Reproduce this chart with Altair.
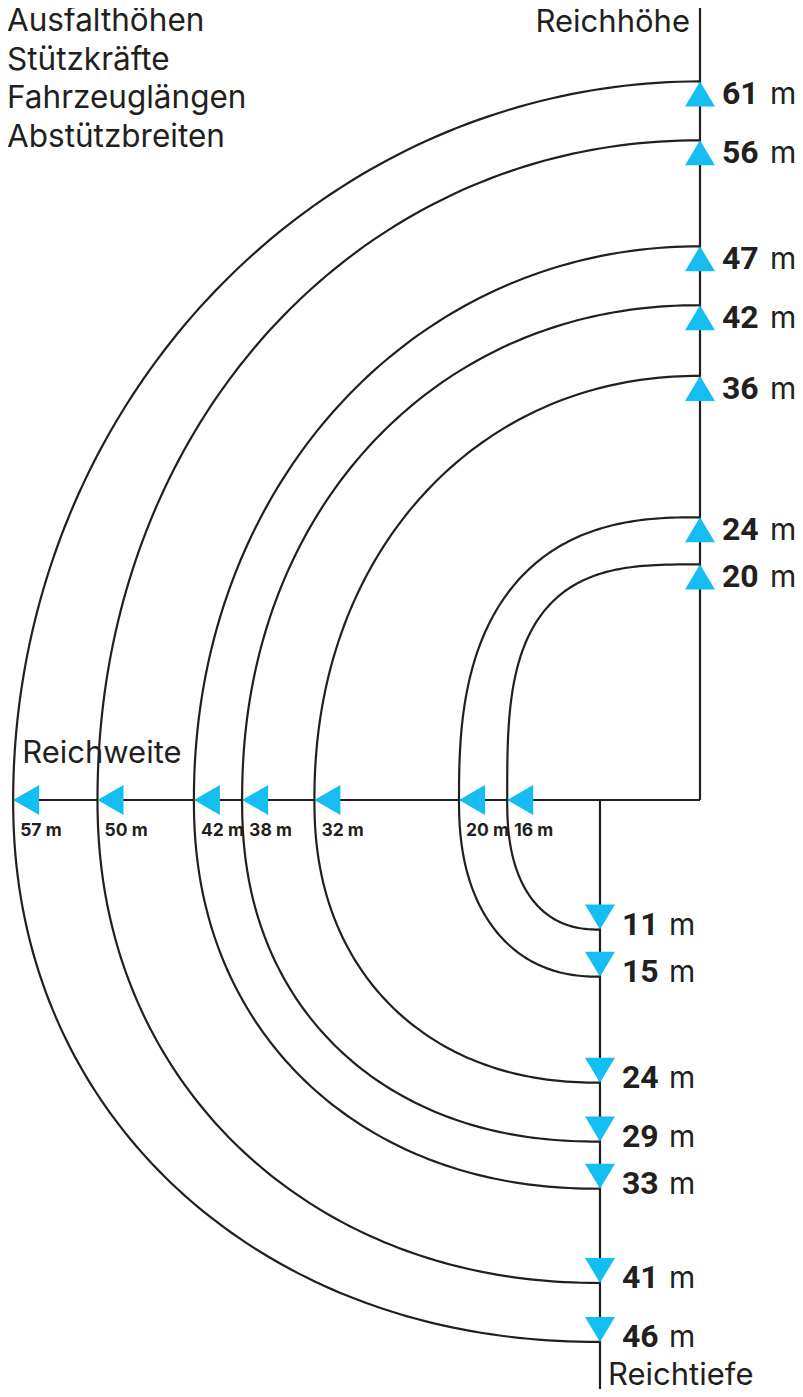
import altair as alt
import pandas as pd

# ---------------- data ----------------
heights = [61, 56, 47, 42, 36, 24, 20]      # Reichhöhe, m
reaches = [57, 50, 42, 38, 32, 20, 16]      # Reichweite, m
depths = [46, 41, 33, 29, 24, 15, 11]       # Reichtiefe, m
legend_lines = ["Ausfalthöhen", "Stützkräfte", "Fahrzeuglängen", "Abstützbreiten"]
name_up, name_left, name_down = "Reichhöhe", "Reichweite", "Reichtiefe"
unit = "m"

# ---------------- style / layout ----------------
top_shape = [2.0, 2.05, 2.05, 2.1, 2.1, 2.6, 3.2]     # superellipse exponent, upper arcs
bottom_shape = [2.1, 2.1, 2.15, 2.2, 2.2, 2.3, 2.4]   # superellipse exponent, lower arcs
PIVOT = 8.3            # depth axis sits this many metres left of the height axis
INK = "#231f20"
CYAN = "#14bef0"
FONT = "Inter"
NUMFONT = "Roboto"     # tabular figures for the bold values

W, H = 787, 1381
KX, KY = 12.05, 11.78          # px per metre
X0, Y0 = 692, 792              # origin inside the view
XMIN, XMAX = -X0 / KX, (W - X0) / KX
YMIN, YMAX = -(H - Y0) / KY, Y0 / KY

xs = alt.Scale(domain=[XMIN, XMAX], nice=False, zero=False)
ys = alt.Scale(domain=[YMIN, YMAX], nice=False, zero=False)


def X(f):
    return alt.X(f, scale=xs, axis=None)


def Y(f):
    return alt.Y(f, scale=ys, axis=None)


# ---------------- tables ----------------
curves = pd.DataFrame({
    "id": list(range(len(heights))),
    "height": heights, "reach": reaches, "depth": depths,
    "nt": top_shape, "nb": bottom_shape,
})
rules = pd.DataFrame({
    "x": [0, -max(reaches), -PIVOT],
    "x2": [0, 0, -PIVOT],
    "y": [YMAX, 0, 0],
    "y2": [0, 0, YMIN],
})
up = pd.DataFrame({"x": [0] * len(heights), "y": heights,
                   "num": [str(h) for h in heights], "u": unit})
left = pd.DataFrame({"x": [-r for r in reaches], "y": [0] * len(reaches),
                     "lab": [f"{r} {unit}" for r in reaches]})
down = pd.DataFrame({"x": [-PIVOT] * len(depths), "y": [-d for d in depths],
                     "num": [str(d) for d in depths], "u": unit})
names = pd.DataFrame({"x": [0, -max(reaches), -PIVOT], "y": [YMAX, 0, YMIN],
                      "t": [name_up, name_left, name_down]})

# ---------------- layers ----------------
axis_lines = alt.Chart(rules).mark_rule(color=INK, strokeWidth=2.2).encode(
    x=X("x:Q"), x2="x2:Q", y=Y("y:Q"), y2="y2:Q")

arcs = (
    alt.Chart(curves)
    .transform_calculate(t="sequence(0, 201)")
    .transform_flatten(["t"])
    .transform_calculate(th="(datum.t <= 100 ? datum.t : datum.t - 100) / 100 * PI / 2")
    .transform_calculate(
        cx=("datum.t <= 100 ? -datum.reach * pow(sin(datum.th), 2 / datum.nt)"
            f" : -{PIVOT} - (datum.reach - {PIVOT}) * pow(cos(datum.th), 2 / datum.nb)"),
        cy=("datum.t <= 100 ? datum.height * pow(cos(datum.th), 2 / datum.nt)"
            " : -datum.depth * pow(sin(datum.th), 2 / datum.nb)"),
    )
    .mark_line(color=INK, strokeWidth=2.2)
    .encode(x=X("cx:Q"), y=Y("cy:Q"), detail="id:N", order="t:Q")
)

tri_up = alt.Chart(up).mark_point(
    shape="M0,0L-1,1.667L1,1.667Z", size=900, filled=True, color=CYAN, opacity=1
).encode(x=X("x:Q"), y=Y("y:Q"))
tri_left = alt.Chart(left).mark_point(
    shape="M0,0L1.733,-1L1.733,1Z", size=900, filled=True, color=CYAN, opacity=1
).encode(x=X("x:Q"), y=Y("y:Q"))
tri_down = alt.Chart(down).mark_point(
    shape="M0,0L-1,-1.667L1,-1.667Z", size=900, filled=True, color=CYAN, opacity=1
).encode(x=X("x:Q"), y=Y("y:Q"))

num_style = dict(font=NUMFONT, fontSize=32, fontWeight="bold", color=INK,
                 baseline="alphabetic", align="left")
unit_style = dict(font=FONT, fontSize=30, fontWeight="normal", color=INK,
                  baseline="alphabetic", align="left")
up_num = alt.Chart(up).mark_text(dx=22, dy=23, **num_style).encode(
    x=X("x:Q"), y=Y("y:Q"), text="num:N")
up_unit = alt.Chart(up).mark_text(dx=70, dy=23, **unit_style).encode(
    x=X("x:Q"), y=Y("y:Q"), text="u:N")
down_num = alt.Chart(down).mark_text(dx=22, dy=5, **num_style).encode(
    x=X("x:Q"), y=Y("y:Q"), text="num:N")
down_unit = alt.Chart(down).mark_text(dx=69, dy=5, **unit_style).encode(
    x=X("x:Q"), y=Y("y:Q"), text="u:N")
left_lab = alt.Chart(left).mark_text(
    font=FONT, fontSize=17.5, fontWeight="bold", color=INK, align="left",
    baseline="alphabetic", dx=7, dy=36
).encode(x=X("x:Q"), y=Y("y:Q"), text="lab:N")

name_style = dict(font=FONT, fontSize=31, color=INK, baseline="alphabetic")
n_up = alt.Chart(names.iloc[[0]]).mark_text(align="right", dx=-10, dy=24, **name_style).encode(
    x=X("x:Q"), y=Y("y:Q"), text="t:N")
n_left = alt.Chart(names.iloc[[1]]).mark_text(align="left", dx=9, dy=-37, **name_style).encode(
    x=X("x:Q"), y=Y("y:Q"), text="t:N")
n_down = alt.Chart(names.iloc[[2]]).mark_text(align="left", dx=8, dy=-4, **name_style).encode(
    x=X("x:Q"), y=Y("y:Q"), text="t:N")

legend = alt.Chart(pd.DataFrame({"t": ["\n".join(legend_lines)]})).mark_text(
    font=FONT, fontSize=31.5, color=INK, align="left", baseline="alphabetic",
    lineBreak="\n", lineHeight=38.7
).encode(x=alt.value(-1), y=alt.value(23), text="t:N")

chart = alt.layer(
    axis_lines, arcs, tri_up, tri_left, tri_down,
    up_num, up_unit, down_num, down_unit, left_lab,
    n_up, n_left, n_down, legend,
).properties(
    width=W, height=H, padding=0, autosize=alt.AutoSizeParams(type="none")
).configure_view(stroke=None)

chart.save("out.html", embed_options={"renderer": "svg", "actions": False})
